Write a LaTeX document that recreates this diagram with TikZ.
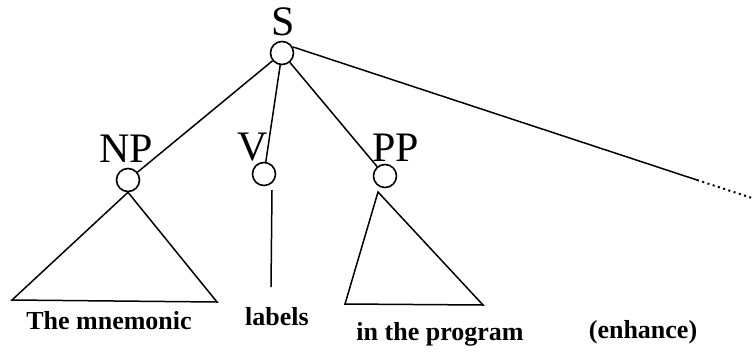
\documentclass[tikz,border=0pt]{standalone}
\usepackage{fontspec}
\setmainfont{Liberation Serif}
\begin{document}
\begin{tikzpicture}[x=1pt,y=-1pt,
  knot/.style={circle,draw,line width=1.6pt,minimum size=23pt,inner sep=0pt},
  cat/.style={inner sep=0pt,font=\fontsize{42}{46}\selectfont},
  word/.style={inner sep=0pt,anchor=base,font=\fontsize{26}{30}\selectfont\bfseries},
  edge/.style={line width=1.5pt}]
\useasboundingbox (0,0) rectangle (755,354);
% tree nodes
\node[knot] (S) at (282,53) {};
\node[knot] (NP) at (128,180) {};
\node[knot] (V) at (264,174) {};
\node[knot] (PP) at (385,176) {};
% category labels
\node[cat] (Sl) at (283,22) {S};
\node[cat] (NPl) at (126,149) {NP};
\node[cat] (Vl) at (253,147) {V};
\node[cat] (PPl) at (396,148) {PP};
% branches
\draw[edge] (S) -- (NP);
\draw[edge] (S) -- (V);
\draw[edge] (S) -- (PP);
\coordinate (far) at (697,180);
\coordinate (farend) at (752,198);
\draw[edge] (S.30) -- (far);
\draw[line width=2pt,dash pattern=on 2pt off 3.5pt] (far) -- (farend);
% NP triangle
\coordinate (npl) at (12,300);
\coordinate (npr) at (217,302);
\draw[edge,line join=miter] (NP.south) -- (npl) -- (npr) -- cycle;
% V stem
\coordinate (vtop) at (272,190);
\coordinate (vbot) at (271,287);
\draw[edge] (vtop) -- (vbot);
% PP triangle
\coordinate (ppa) at (378,192);
\coordinate (ppl) at (345,304);
\coordinate (ppr) at (483,305);
\draw[edge,line join=miter] (ppa) -- (ppl) -- (ppr) -- cycle;
% words
\node[word] (w1) at (109,329) {The mnemonic};
\node[word] (w2) at (277,325) {labels};
\node[word] (w3) at (440,340) {in the program};
\node[word] (w4) at (643,338) {(enhance)};
\end{tikzpicture}
\end{document}
